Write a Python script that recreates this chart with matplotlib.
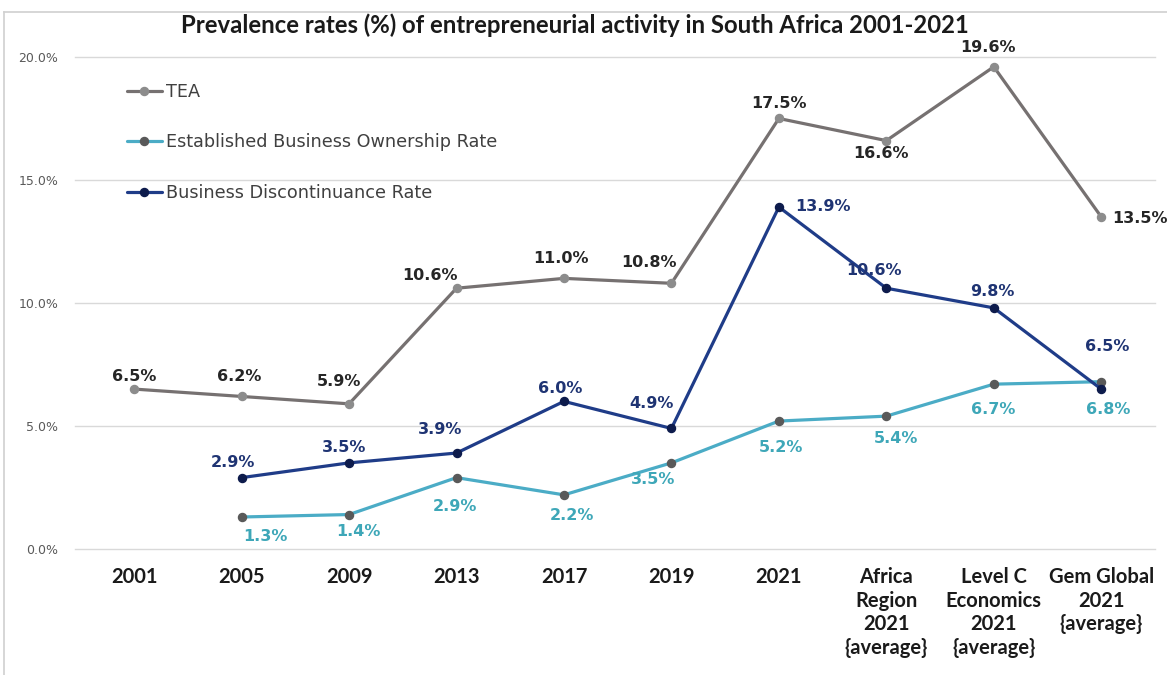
import matplotlib
matplotlib.use("Agg")
import matplotlib.pyplot as plt
from matplotlib.lines import Line2D

# ============================================================
# 数据
# ============================================================
categories = ["2001", "2005", "2009", "2013", "2017", "2019", "2021",
              "Africa\nRegion\n2021\n{average}",
              "Level C\nEconomics\n2021\n{average}",
              "Gem Global\n2021\n{average}"]
tea = [6.5, 6.2, 5.9, 10.6, 11.0, 10.8, 17.5, 16.6, 19.6, 13.5]
ebo = [None, 1.3, 1.4, 2.9, 2.2, 3.5, 5.2, 5.4, 6.7, 6.8]
disc = [None, 2.9, 3.5, 3.9, 6.0, 4.9, 13.9, 10.6, 9.8, 6.5]
yticks = [0, 5, 10, 15, 20]

# 标签偏移（points）
tea_off = [(0, 9.4), (-1.4, 14.4), (-7, 16), (-19, 9), (-2, 14.4), (-16, 15),
           (0, 11), (-3.6, -9.4), (-4.3, 13.7), (28, -1.4)]
ebo_off = [None, (17, -13.7), (7, -12), (-1.4, -21), (5.8, -15), (-13, -12),
           (1.4, -18.7), (7, -16), (-0.7, -18), (5, -20)]
disc_off = [None, (-6.5, 10.8), (-3.6, 10.8), (-12, 16.6), (-3, 9.4), (-14.4, 18),
            (31.7, 0.7), (-8.6, 13), (-1.4, 11.5), (4.3, 31)]

C_TEA, C_TEA_MK, C_TEA_TXT = "#767171", "#8c8c8c", "#262626"
C_EBO, C_EBO_MK, C_EBO_TXT = "#4bacc6", "#595959", "#3ea7b8"
C_DISC, C_DISC_MK, C_DISC_TXT = "#1f3c88", "#0d1b4c", "#1f3473"

fig = plt.figure(figsize=(11.67, 6.75), dpi=100)
ax = fig.add_axes([0.0643, 0.1867, 0.9254, 0.7289])

x = list(range(len(categories)))


def series(vals):
    xs = [i for i, v in zip(x, vals) if v is not None]
    ys = [v for v in vals if v is not None]
    return xs, ys


def draw(vals, color, mk, txt, offs, label, z):
    xs, ys = series(vals)
    ax.plot(xs, ys, color=color, lw=2.3, marker="o", ms=5.8,
            mfc=mk, mec=mk, label=label, zorder=z, solid_capstyle="round")
    for i, v in enumerate(vals):
        if v is None:
            continue
        ax.annotate(f"{v:.1f}%", (i, v), xytext=offs[i], textcoords="offset points",
                    ha="center", va="center", fontsize=11.5, fontweight="bold",
                    color=txt, zorder=z + 1, annotation_clip=False)


draw(tea, C_TEA, C_TEA_MK, C_TEA_TXT, tea_off, "TEA", 3)
draw(ebo, C_EBO, C_EBO_MK, C_EBO_TXT, ebo_off, "Established Business Ownership Rate", 4)
draw(disc, C_DISC, C_DISC_MK, C_DISC_TXT, disc_off, "Business Discontinuance Rate", 5)

ax.set_xlim(-0.55, 9.5)
ax.set_ylim(0, 20)
ax.set_yticks(yticks)
ax.set_yticklabels([f"{v:.1f}%" for v in yticks], fontsize=9, color="#595959")
ax.set_xticks(x)
ax.set_xticklabels(categories, fontsize=14.5, fontweight="bold", color="#1a1a1a",
                   family="Lato")
for t in ax.get_xticklabels():
    t.set_linespacing(1.22)
ax.tick_params(axis="both", length=0)
ax.tick_params(axis="x", pad=13)
ax.tick_params(axis="y", pad=12)
ax.grid(axis="y", color="#d9d9d9", lw=1)
for gl in ax.get_ygridlines():
    gl.set_clip_on(False)
ax.set_axisbelow(True)
for s in ax.spines.values():
    s.set_visible(False)

leg = ax.legend(loc="upper left", bbox_to_anchor=(0.033, 0.98), frameon=False,
                fontsize=12.7, labelspacing=1.85, handlelength=2.0, handletextpad=0.25,
                labelcolor="#404040")

fig.text(0.493, 1 - 25 / 675, "Prevalence rates (%) of entrepreneurial activity in South Africa 2001-2021",
         ha="center", va="center", fontsize=17.2, fontweight="bold", family="Lato",
         color="#1a1a1a")

# 外框
fig.add_artist(Line2D([0.0035, 0.0035], [0, 1 - 12 / 675], transform=fig.transFigure,
                      color="#d0d0d0", lw=1.2))
fig.add_artist(Line2D([0.0035, 1], [1 - 12 / 675, 1 - 12 / 675], transform=fig.transFigure,
                      color="#d0d0d0", lw=1.2))

fig.savefig("out.png", dpi=100, facecolor="white")
